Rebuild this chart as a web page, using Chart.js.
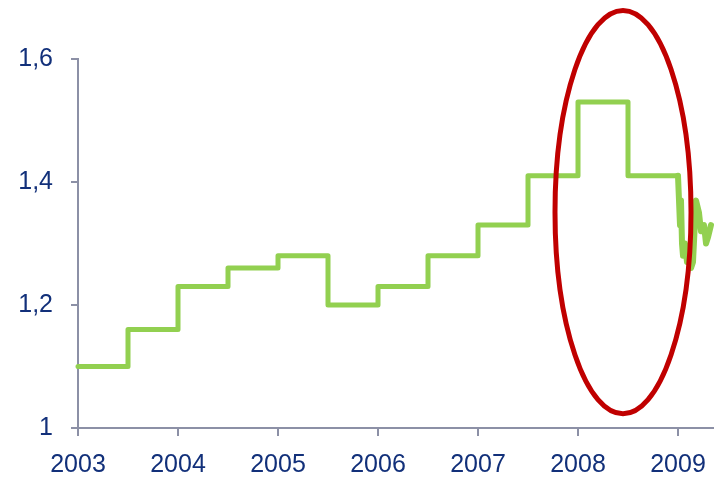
<!DOCTYPE html>
<html>
<head>
<meta charset="utf-8">
<script src="https://cdn.jsdelivr.net/npm/chart.js@4/dist/chart.umd.min.js"></script>
<style>
html,body{margin:0;padding:0;background:#fff;}
#wrap{width:723px;height:484px;position:relative;}
</style>
</head>
<body>
<div id="wrap"><canvas id="c" width="723" height="484"></canvas></div>
<script>
// Step dates (year fractions) and the policy rate level starting at each date
const stepDates  = [2003, 2003.5, 2004, 2004.5, 2005, 2005.5, 2006, 2006.5, 2007, 2007.5, 2008, 2008.5, 2009];
const stepValues = [1.10, 1.16,   1.23, 1.26,   1.28, 1.20,   1.23, 1.28,   1.33, 1.41,   1.53, 1.41,   1.41];
// Daily-ish tail after 2009
const tailDates  = [2009.00, 2009.01, 2009.02, 2009.03, 2009.04, 2009.05, 2009.07, 2009.09, 2009.11, 2009.13, 2009.15, 2009.18, 2009.21, 2009.23, 2009.26, 2009.28, 2009.30, 2009.33];
const tailValues = [1.41,    1.37,    1.33,    1.37,    1.30,    1.28,    1.30,    1.27,    1.29,    1.26,    1.27,    1.37,    1.35,    1.32,    1.33,    1.30,    1.31,    1.33];
// Axis ticks
const xTicks = [2003, 2004, 2005, 2006, 2007, 2008, 2009];
const yTicks = [1, 1.2, 1.4, 1.6];
// Highlight ellipse in data units: [centerX, centerY, radiusX(years), radiusY(value)]
const ellipse = [2008.45, 1.351, 0.68, 0.328];

const textColor = '#12307a';
const axisColor = '#8c90a6';
const lineColor = '#92d050';
const fontFam = '"Liberation Sans", Arial, sans-serif';

const ellipsePlugin = {
  id: 'ellipse',
  afterDatasetsDraw(chart) {
    const xs = chart.scales.x, ys = chart.scales.y, ctx = chart.ctx;
    const cx = xs.getPixelForValue(ellipse[0]);
    const cy = ys.getPixelForValue(ellipse[1]);
    const rx = Math.abs(xs.getPixelForValue(ellipse[0] + ellipse[2]) - cx);
    const ry = Math.abs(ys.getPixelForValue(ellipse[1] + ellipse[3]) - cy);
    ctx.save();
    ctx.beginPath();
    ctx.ellipse(cx, cy, rx, ry, 0, 0, Math.PI * 2);
    ctx.lineWidth = 5;
    ctx.strokeStyle = '#c00000';
    ctx.stroke();
    ctx.restore();
  }
};

new Chart(document.getElementById('c'), {
  type: 'line',
  data: {
    datasets: [
      {
        data: stepDates.map((d, i) => ({x: d, y: stepValues[i]})),
        stepped: 'before',
        borderColor: lineColor,
        borderWidth: 5,
        pointRadius: 0,
        fill: false,
        borderJoinStyle: 'round',
        borderCapStyle: 'round'
      },
      {
        data: tailDates.map((d, i) => ({x: d, y: tailValues[i]})),
        borderColor: lineColor,
        borderWidth: 6,
        pointRadius: 0,
        tension: 0,
        fill: false,
        borderJoinStyle: 'round',
        borderCapStyle: 'round'
      }
    ]
  },
  options: {
    responsive: false,
    animation: false,
    clip: false,
    layout: {padding: {left: 0, top: 59, right: 10, bottom: 0}},
    plugins: {legend: {display: false}, tooltip: {enabled: false}},
    scales: {
      x: {
        type: 'linear',
        min: 2003,
        max: 2009.35,
        afterBuildTicks: s => { s.ticks = xTicks.map(v => ({value: v})); },
        afterFit: s => { s.height = 56; },
        grid: {display: true, drawOnChartArea: false, drawTicks: true, tickLength: 8, color: axisColor, lineWidth: 2},
        border: {display: true, color: axisColor, width: 2},
        ticks: {
          color: textColor,
          font: {family: fontFam, size: 25},
          padding: 14,
          maxRotation: 0,
          autoSkip: false,
          callback: v => String(v)
        }
      },
      y: {
        type: 'linear',
        min: 1,
        max: 1.6,
        afterBuildTicks: s => { s.ticks = yTicks.map(v => ({value: v})); },
        afterFit: s => { s.width = 78; },
        grid: {display: true, drawOnChartArea: false, drawTicks: true, tickLength: 7, color: axisColor, lineWidth: 2},
        border: {display: true, color: axisColor, width: 2},
        ticks: {
          color: textColor,
          font: {family: fontFam, size: 25},
          padding: 18,
          callback: v => String(Math.round(v * 10) / 10).replace('.', ',')
        }
      }
    }
  },
  plugins: [ellipsePlugin]
});
</script>
</body>
</html>
